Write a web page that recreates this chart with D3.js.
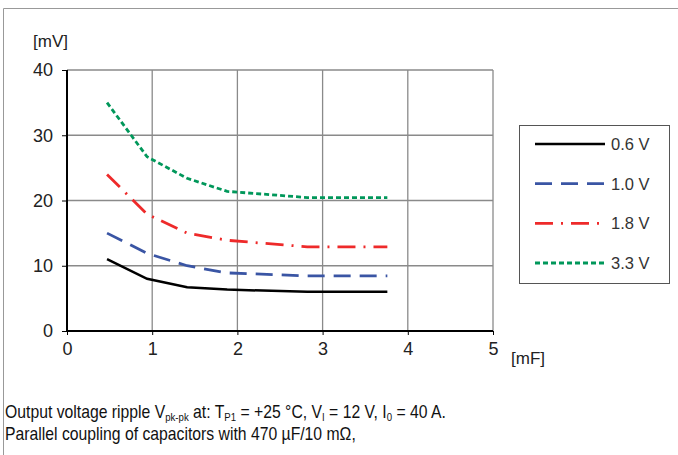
<!DOCTYPE html>
<html><head><meta charset="utf-8">
<script src="https://cdn.jsdelivr.net/npm/d3@7"></script>
<style>
body{margin:0;background:#fff;}
svg{display:block;}
text{font-family:"Liberation Sans",Arial,sans-serif;}
</style></head>
<body>
<svg id="c" width="678" height="455"></svg>
<script>
const capacitance = [0.47, 0.94, 1.41, 1.88, 2.82, 3.76];
const v06 = [11.0, 8.0, 6.7, 6.35, 6.0, 6.0];
const v10 = [15.0, 11.9, 10.0, 8.9, 8.45, 8.45];
const v18 = [24.0, 17.9, 15.0, 13.9, 12.9, 12.9];
const v33 = [35.0, 26.7, 23.4, 21.4, 20.45, 20.45];
const seriesNames = ["0.6 V", "1.0 V", "1.8 V", "3.3 V"];
const xTicks = [0, 1, 2, 3, 4, 5];
const yTicks = [0, 10, 20, 30, 40];

const series = [
  {name: seriesNames[0], values: v06, color: "#000000", dash: null, width: 2.5},
  {name: seriesNames[1], values: v10, color: "#3a55a4", dash: "17,9", width: 2.8},
  {name: seriesNames[2], values: v18, color: "#ee2a2a", dash: "18,8,2,8", width: 2.8},
  {name: seriesNames[3], values: v33, color: "#00975a", dash: "5,3", width: 2.8}
];

const svg = d3.select("#c");
const x = d3.scaleLinear().domain([0, 5]).range([67, 493]);
const y = d3.scaleLinear().domain([0, 40]).range([331, 70]);

// outer frame
svg.append("line").attr("x1", 3.5).attr("x2", 678).attr("y1", 8.5).attr("y2", 8.5).attr("stroke", "#999").attr("stroke-width", 1);
svg.append("line").attr("x1", 3.5).attr("x2", 3.5).attr("y1", 8.5).attr("y2", 455).attr("stroke", "#999").attr("stroke-width", 1);

// grid
const g = svg.append("g");
g.selectAll(".vg").data(xTicks.slice(1)).join("line")
  .attr("x1", d => x(d)).attr("x2", d => x(d)).attr("y1", y(40)).attr("y2", y(0))
  .attr("stroke", "#8a8a8a").attr("stroke-width", 1.3);
g.selectAll(".hg").data(yTicks.slice(1)).join("line")
  .attr("x1", x(0)).attr("x2", x(5)).attr("y1", d => y(d)).attr("y2", d => y(d))
  .attr("stroke", "#8a8a8a").attr("stroke-width", 1.3);

// axes
const yAxis = d3.axisLeft(y).tickValues(yTicks).tickSize(5).tickPadding(9).tickFormat(d3.format("d"));
const xAxis = d3.axisBottom(x).tickValues(xTicks).tickSize(4).tickPadding(7).tickFormat(d3.format("d"));
const ya = svg.append("g").attr("transform", `translate(${x(0)},0)`).call(yAxis);
const xa = svg.append("g").attr("transform", `translate(0,${y(0)})`).call(xAxis);
[ya, xa].forEach(a => {
  a.select(".domain").attr("stroke", "#000").attr("stroke-width", 2);
  a.selectAll(".tick line").attr("stroke", "#000").attr("stroke-width", 1);
  a.selectAll(".tick text").attr("fill", "#222").style("font-size", "18px").style("font-family", "'Liberation Sans',Arial,sans-serif");
});
ya.select(".domain").attr("d", `M0,${y(40)}V${y(0)}`);
xa.select(".domain").attr("d", `M${x(0)},0H${x(5)}`);

// units
svg.append("text").attr("x", 33).attr("y", 47).attr("fill", "#222").style("font-size", "17px").text("[mV]");
svg.append("text").attr("x", 511).attr("y", 364).attr("fill", "#222").style("font-size", "17px").text("[mF]");

// lines
const line = d3.line().x((d, i) => x(capacitance[i])).y(d => y(d));
svg.append("g").selectAll("path").data(series).join("path")
  .attr("d", d => line(d.values))
  .attr("fill", "none").attr("stroke", d => d.color)
  .attr("stroke-width", d => d.width)
  .attr("stroke-dasharray", d => d.dash);

// legend
const lg = svg.append("g");
lg.append("rect").attr("x", 519.5).attr("y", 125.5).attr("width", 150).attr("height", 158)
  .attr("fill", "#fff").attr("stroke", "#555").attr("stroke-width", 1);
const ly = d3.scalePoint().domain(seriesNames).range([144, 263]);
const items = lg.selectAll(".it").data(series).join("g");
items.append("line").attr("x1", 535).attr("x2", 605)
  .attr("y1", d => ly(d.name)).attr("y2", d => ly(d.name))
  .attr("stroke", d => d.color).attr("stroke-width", d => d.width)
  .attr("stroke-dasharray", d => d.dash);
items.append("text").attr("x", 611).attr("y", d => ly(d.name) + 6)
  .attr("fill", "#333").style("font-size", "16.5px").text(d => d.name);

// caption (condensed)
const cap = svg.append("g").attr("transform", "translate(5,0) scale(0.875,1)").attr("fill", "#111");
const t1 = cap.append("text").attr("x", 0).attr("y", 418).style("font-size", "18px");
t1.append("tspan").text("Output voltage ripple V");
t1.append("tspan").attr("dy", 3).style("font-size", "11px").text("pk-pk");
t1.append("tspan").attr("dy", -3).text(" at: T");
t1.append("tspan").attr("dy", 3).style("font-size", "11px").text("P1");
t1.append("tspan").attr("dy", -3).text(" = +25 °C, V");
t1.append("tspan").attr("dy", 3).style("font-size", "11px").text("I");
t1.append("tspan").attr("dy", -3).text(" = 12 V, I");
t1.append("tspan").attr("dy", 3).style("font-size", "11px").text("0");
t1.append("tspan").attr("dy", -3).text(" = 40 A.");
cap.append("text").attr("x", 0).attr("y", 440).style("font-size", "18px")
  .text("Parallel coupling of capacitors with 470 µF/10 mΩ,");
</script>
</body></html>
